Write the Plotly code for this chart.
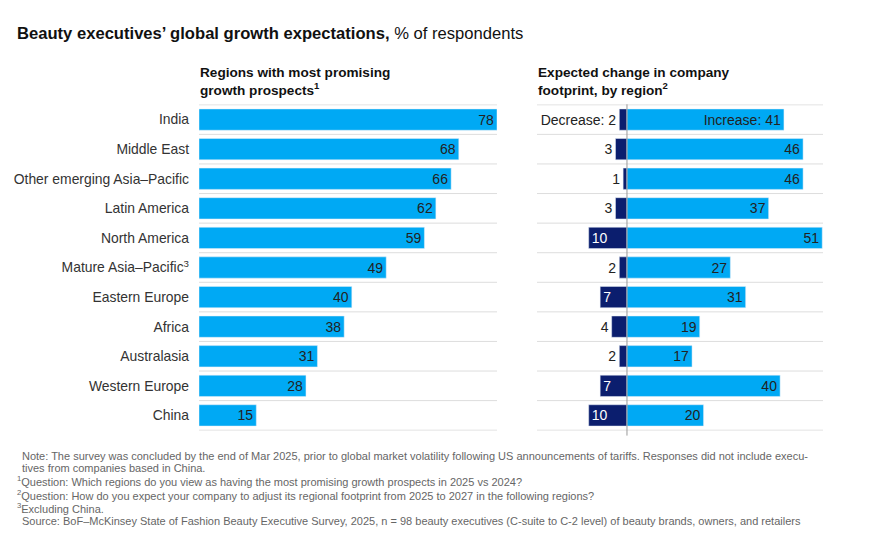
import plotly.graph_objects as go

regions = ["India", "Middle East", "Other emerging Asia–Pacific", "Latin America",
           "North America", "Mature Asia–Pacific<sup>3</sup>", "Eastern Europe",
           "Africa", "Australasia", "Western Europe", "China"]
promising = [78, 68, 66, 62, 59, 49, 40, 38, 31, 28, 15]
decrease = [2, 3, 1, 3, 10, 2, 7, 4, 2, 7, 10]
increase = [41, 46, 46, 37, 51, 27, 31, 19, 17, 40, 20]

CYAN = "#00A9F4"
NAVY = "#0B1E6E"
TXT = "#222222"
FONT = "Liberation Sans, Arial, sans-serif"
W, H = 887, 544

def px(x):
    return x / W

def py(y):
    return 1 - y / H

fig = go.Figure()

fig.add_trace(go.Bar(
    y=regions, x=promising, orientation="h", marker_color=CYAN,
    text=[str(v) for v in promising], textposition="inside", insidetextanchor="end",
    textangle=0,
    textfont=dict(color=TXT, size=14, family=FONT), constraintext="none",
    xaxis="x", yaxis="y", showlegend=False, hoverinfo="x+y"))

dec_text = ["Decrease: 2" if i == 0 else str(v) for i, v in enumerate(decrease)]
dec_pos = ["inside" if v >= 7 else "outside" for v in decrease]
dec_col = ["white" if v >= 7 else TXT for v in decrease]
fig.add_trace(go.Bar(
    y=regions, x=[-v for v in decrease], orientation="h", marker_color=NAVY,
    text=dec_text, textposition=dec_pos, insidetextanchor="end", textangle=0,
    textfont=dict(color=dec_col, size=14, family=FONT), constraintext="none",
    cliponaxis=False, xaxis="x2", yaxis="y2", showlegend=False, hoverinfo="x+y"))

inc_text = ["Increase: 41" if i == 0 else str(v) for i, v in enumerate(increase)]
fig.add_trace(go.Bar(
    y=regions, x=increase, orientation="h", marker_color=CYAN,
    text=inc_text, textposition="inside", insidetextanchor="end", textangle=0,
    textfont=dict(color=TXT, size=14, family=FONT), constraintext="none",
    xaxis="x2", yaxis="y2", showlegend=False, hoverinfo="x+y"))

ydom = [py(430.7), py(104.3)]
fig.update_layout(
    width=W, height=H, margin=dict(l=0, r=0, t=0, b=0),
    paper_bgcolor="white", plot_bgcolor="white",
    font=dict(family=FONT, color=TXT, size=13),
    barmode="relative", bargap=0.28,
    uniformtext=dict(minsize=14, mode="show"),
    xaxis=dict(domain=[px(199), px(497)], range=[0, 78], visible=False, fixedrange=True),
    xaxis2=dict(domain=[px(537), px(823)], range=[-23.5, 51.2], visible=False, fixedrange=True),
    yaxis=dict(domain=ydom, categoryorder="array", categoryarray=regions, autorange="reversed",
               showgrid=False, zeroline=False, showline=False, ticks="",
               tickfont=dict(size=13.9, color="#333333", family=FONT), ticklabelstandoff=9,
               anchor="x"),
    yaxis2=dict(domain=ydom, categoryorder="array", categoryarray=regions, autorange="reversed",
                showgrid=False, zeroline=False, showline=False, showticklabels=False,
                anchor="x2"),
)

shapes = []
n = len(regions)
for k in range(n + 1):
    yy = k - 0.5
    for xr, yr in (("x domain", "y"), ("x2 domain", "y2")):
        shapes.append(dict(type="line", xref=xr, yref=yr, x0=0, x1=1, y0=yy, y1=yy,
                           line=dict(color="#DDDDDD", width=1), layer="below"))
shapes.append(dict(type="line", xref="x2", yref="y2 domain", x0=0, x1=0, y0=-0.015, y1=1,
                   line=dict(color="#999999", width=1), layer="above"))
fig.update_layout(shapes=shapes)

ann = []
ann.append(dict(xref="paper", yref="paper", x=px(15), y=py(22), xanchor="left", yanchor="top",
                text="<b>Beauty executives’ global growth expectations,</b> % of respondents",
                showarrow=False, font=dict(size=16.6, color="#111111", family=FONT)))
ann.append(dict(xref="paper", yref="paper", x=px(198), y=py(63), xanchor="left", yanchor="top",
                align="left", text="<b>Regions with most promising<br>growth prospects<sup>1</sup></b>",
                showarrow=False, font=dict(size=13.6, color="#111111", family=FONT)))
ann.append(dict(xref="paper", yref="paper", x=px(536), y=py(63), xanchor="left", yanchor="top",
                align="left", text="<b>Expected change in company<br>footprint, by region<sup>2</sup></b>",
                showarrow=False, font=dict(size=13.6, color="#111111", family=FONT)))
notes = [
    (20, "Note: The survey was concluded by the end of Mar 2025, prior to global market volatility following US announcements of tariffs. Responses did not include execu-"),
    (20, "tives from companies based in China."),
    (15, "<sup>1</sup>Question: Which regions do you view as having the most promising growth prospects in 2025 vs 2024?"),
    (15, "<sup>2</sup>Question: How do you expect your company to adjust its regional footprint from 2025 to 2027 in the following regions?"),
    (15, "<sup>3</sup>Excluding China."),
    (20, "Source: BoF–McKinsey State of Fashion Beauty Executive Survey, 2025, n = 98 beauty executives (C-suite to C-2 level) of beauty brands, owners, and retailers"),
]
ys = [456, 468, 481, 495, 508, 521]
for (x0, t), yc in zip(notes, ys):
    ann.append(dict(xref="paper", yref="paper", x=px(x0), y=py(yc), xanchor="left", yanchor="middle",
                    text=t, showarrow=False,
                    font=dict(size=11, color="#666666", family=FONT)))
fig.update_layout(annotations=ann)

fig.write_html("out.html")
